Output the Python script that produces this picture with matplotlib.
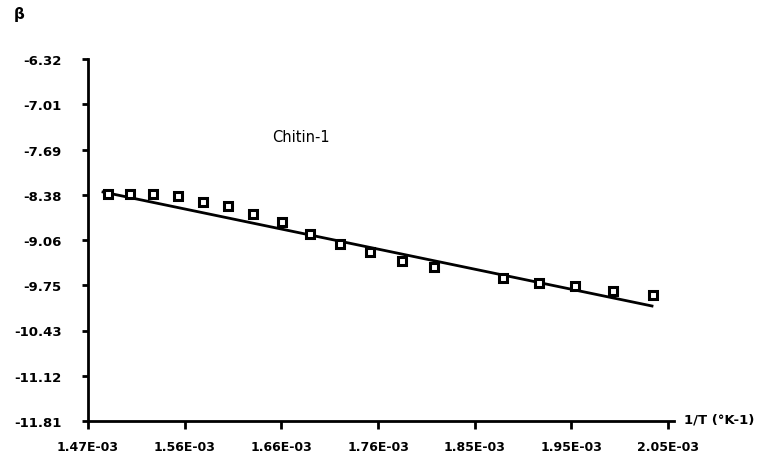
import numpy as np
import matplotlib; matplotlib.use("Agg"); import matplotlib.pyplot as plt

# 1/T values (K^-1) and beta values
inv_t = [1.490e-3, 1.512e-3, 1.535e-3, 1.560e-3, 1.585e-3, 1.610e-3, 1.635e-3,
         1.664e-3, 1.692e-3, 1.722e-3, 1.752e-3, 1.784e-3, 1.816e-3, 1.885e-3,
         1.921e-3, 1.957e-3, 1.995e-3, 2.035e-3]
beta = [-8.367, -8.367, -8.367, -8.398, -8.489, -8.549, -8.671, -8.792, -8.974,
        -9.126, -9.247, -9.384, -9.475, -9.641, -9.717, -9.763, -9.838, -9.899]

# fitted straight line (end points)
fit_x = [1.485e-3, 2.034e-3]
fit_y = [-8.337, -10.066]

ytick_labels = ["-6.32", "-7.01", "-7.69", "-8.38", "-9.06", "-9.75", "-10.43", "-11.12", "-11.81"]
xtick_labels = ["1.47E-03", "1.56E-03", "1.66E-03", "1.76E-03", "1.85E-03", "1.95E-03", "2.05E-03"]
YMIN, YMAX = -11.81, -6.32
XMIN, XMAX = 1.47e-3, 2.05e-3

fig = plt.figure(figsize=(7.78, 4.6), dpi=100)
ax = fig.add_axes([88/778, 1-422/460, (674-88)/778, (422-60)/460])

ax.plot(fit_x, fit_y, color="black", lw=2.0)
ax.plot(inv_t, beta, ls="none", marker="s", ms=5.5, mfc="white", mec="black", mew=2.2)

ax.set_xlim(XMIN, XMIN + (674-88)*1e-6)
ax.set_ylim(YMIN, YMAX)
ax.set_yticks(np.linspace(YMAX, YMIN, len(ytick_labels)))
ax.set_yticklabels(ytick_labels)
ax.set_xticks(np.linspace(XMIN, XMAX, len(xtick_labels)))
ax.set_xticklabels(xtick_labels)

for s in ["top", "right"]:
    ax.spines[s].set_visible(False)
for s in ["left", "bottom"]:
    ax.spines[s].set_linewidth(2.0)
ax.tick_params(axis="y", length=4, width=2, pad=15, labelsize=9.5)
ax.tick_params(axis="x", length=6, width=2, pad=8, labelsize=9)
for lab in ax.get_xticklabels() + ax.get_yticklabels():
    lab.set_fontweight("bold")

fig.text(14/778, 1-14/460, "β", fontsize=11, fontweight="bold", va="center", ha="left")
fig.text(684/778, 1-420/460, "1/T (°K-1)", fontsize=9.5, fontweight="bold", va="center", ha="left")
ax.text(1.654e-3, -7.50, "Chitin-1", fontsize=10.5, va="center", ha="left")

fig.savefig("out.png", dpi=100)
